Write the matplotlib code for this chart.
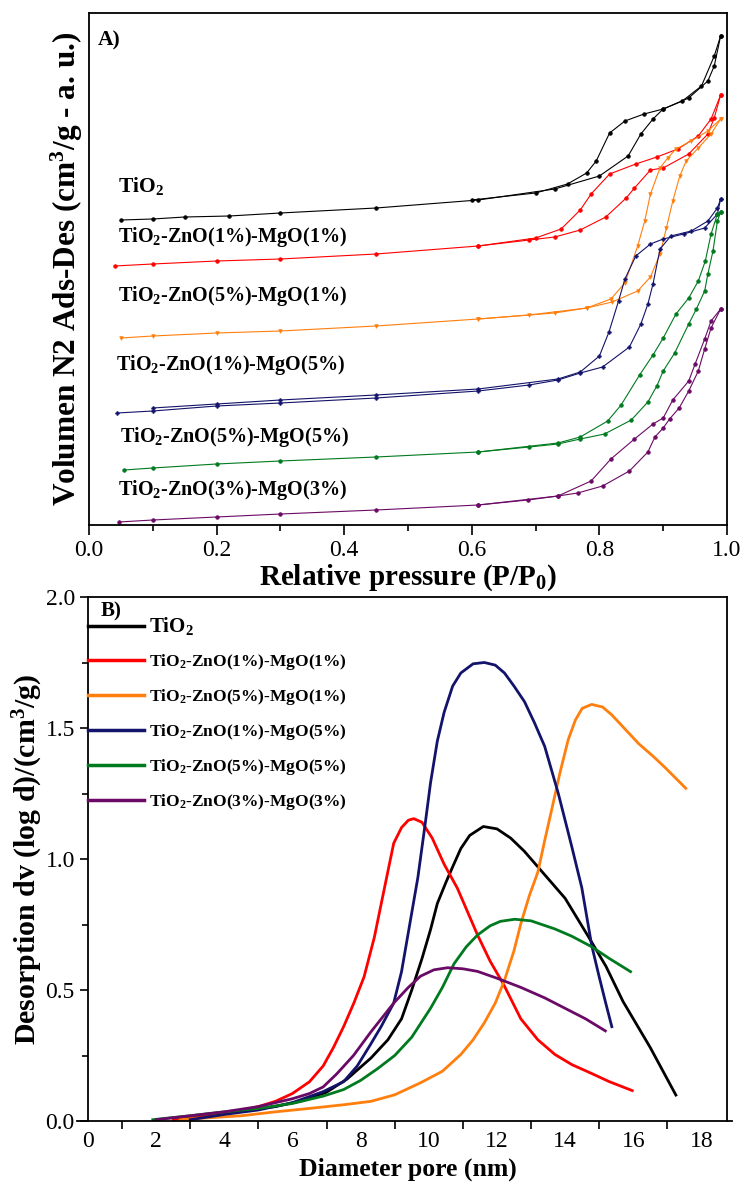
import numpy as np
import matplotlib
matplotlib.use("Agg")
import matplotlib.pyplot as plt
from matplotlib.ticker import MultipleLocator, FixedLocator, FormatStrFormatter

plt.rcParams['font.family'] = ['Liberation Serif', 'DejaVu Serif']
plt.rcParams['mathtext.fontset'] = 'custom'
plt.rcParams['mathtext.rm'] = 'Liberation Serif'
plt.rcParams['mathtext.bf'] = 'Liberation Serif:bold'
plt.rcParams['mathtext.default'] = 'regular'

# ---- panel A: N2 isotherms (offset, arbitrary units) ----
names = ['TiO$_2$', 'TiO$_2$-ZnO(1%)-MgO(1%)', 'TiO$_2$-ZnO(5%)-MgO(1%)',
         'TiO$_2$-ZnO(1%)-MgO(5%)', 'TiO$_2$-ZnO(5%)-MgO(5%)', 'TiO$_2$-ZnO(3%)-MgO(3%)']
colors = ['black', '#ff0000', '#ff7f0e', '#13136b', '#007a1f', '#6b0a66']
markers = ['o', 'o', 'v', 'P', 'o', 'o']

tio2_ads_x = [0.05, 0.10, 0.15, 0.22, 0.30, 0.45, 0.61, 0.73, 0.80, 0.845, 0.865, 0.884, 0.90, 0.94, 0.97, 0.98, 0.99]
tio2_ads_y = [305, 306, 308, 309, 312, 317, 325, 336, 349, 369, 391, 406, 416, 427, 444, 459, 489]
tio2_des_x = [0.99, 0.98, 0.96, 0.93, 0.90, 0.87, 0.84, 0.816, 0.795, 0.78, 0.75, 0.70, 0.60]
tio2_des_y = [489, 469, 439, 424, 416, 411, 404, 392, 364, 352, 341, 332, 325]

z11_ads_x = [0.04, 0.10, 0.20, 0.30, 0.45, 0.61, 0.69, 0.73, 0.77, 0.81, 0.842, 0.855, 0.88, 0.90, 0.94, 0.97, 0.98, 0.99]
z11_ads_y = [259, 261, 264, 266, 271, 279, 285, 288, 295, 308, 327, 337, 355, 357, 371, 391, 407, 430]
z11_des_x = [0.99, 0.975, 0.955, 0.923, 0.89, 0.857, 0.816, 0.787, 0.77, 0.74, 0.70, 0.61]
z11_des_y = [430, 406, 389, 376, 368, 361, 351, 331, 315, 296, 287, 279]

z51_ads_x = [0.05, 0.10, 0.20, 0.30, 0.45, 0.61, 0.69, 0.78, 0.82, 0.86, 0.88, 0.895, 0.905, 0.915, 0.926, 0.936, 0.955, 0.975, 0.99]
z51_ads_y = [187, 189, 192, 194, 199, 206, 210, 217, 223, 234, 248, 271, 297, 324, 349, 364, 377, 391, 406]
z51_des_x = [0.99, 0.97, 0.944, 0.92, 0.907, 0.895, 0.88, 0.871, 0.86, 0.84, 0.818, 0.78, 0.73, 0.61]
z51_des_y = [406, 394, 384, 376, 367, 357, 331, 304, 279, 242, 226, 217, 212, 206]

z15_ads_x = [0.044, 0.10, 0.20, 0.30, 0.45, 0.61, 0.69, 0.735, 0.77, 0.805, 0.847, 0.865, 0.876, 0.884, 0.895, 0.912, 0.944, 0.97, 0.985, 0.99]
z15_ads_y = [112, 114, 119, 122, 127, 134, 140, 145, 152, 158, 178, 201, 221, 241, 276, 289, 294, 304, 317, 326]
z15_des_x = [0.99, 0.985, 0.965, 0.932, 0.90, 0.88, 0.857, 0.84, 0.83, 0.815, 0.80, 0.77, 0.735, 0.61, 0.45, 0.30, 0.20, 0.10]
z15_des_y = [326, 311, 297, 291, 286, 281, 269, 246, 224, 193, 169, 153, 146, 136, 130, 125, 121, 117]

z55_ads_x = [0.055, 0.10, 0.20, 0.30, 0.45, 0.61, 0.69, 0.735, 0.77, 0.808, 0.85, 0.876, 0.89, 0.90, 0.918, 0.94, 0.952, 0.965, 0.97, 0.978, 0.985, 0.99]
z55_ads_y = [55, 57, 61, 64, 68, 73, 78, 81, 86, 91, 105, 123, 139, 154, 172, 201, 216, 234, 251, 274, 304, 313]
z55_des_x = [0.99, 0.985, 0.975, 0.966, 0.955, 0.94, 0.92, 0.90, 0.884, 0.863, 0.834, 0.813, 0.77, 0.735, 0.61]
z55_des_y = [313, 311, 291, 264, 244, 227, 211, 187, 170, 150, 120, 104, 88, 82, 73]

z33_ads_x = [0.047, 0.10, 0.20, 0.30, 0.45, 0.61, 0.688, 0.735, 0.766, 0.805, 0.847, 0.876, 0.887, 0.90, 0.91, 0.925, 0.94, 0.955, 0.965, 0.975, 0.99]
z33_ads_y = [3, 5, 8, 11, 15, 20, 25, 29, 32, 39, 54, 73, 88, 97, 106, 117, 134, 154, 176, 197, 216]
z33_des_x = [0.99, 0.975, 0.965, 0.95, 0.94, 0.915, 0.90, 0.884, 0.855, 0.818, 0.787, 0.735, 0.61]
z33_des_y = [216, 204, 186, 161, 144, 125, 107, 101, 86, 66, 44, 29, 20]

iso = [(tio2_ads_x, tio2_ads_y, tio2_des_x, tio2_des_y),
       (z11_ads_x, z11_ads_y, z11_des_x, z11_des_y),
       (z51_ads_x, z51_ads_y, z51_des_x, z51_des_y),
       (z15_ads_x, z15_ads_y, z15_des_x, z15_des_y),
       (z55_ads_x, z55_ads_y, z55_des_x, z55_des_y),
       (z33_ads_x, z33_ads_y, z33_des_x, z33_des_y)]

# label anchors in panel A (x, y in data units)
label_x = [0.045, 0.045, 0.045, 0.042, 0.049, 0.045]
label_y = [339, 288, 229, 160, 88, 35]

# ---- panel B: pore size distributions ----
black_x = [2.6, 3.5, 4.5, 5.5, 6.3, 7.0, 7.6, 8.3, 8.8, 9.2, 9.5, 9.8, 10.05, 10.25, 10.5, 10.7, 10.94, 11.2, 11.6,
           12.0, 12.4, 12.8, 13.2, 13.6, 14.0, 14.7, 15.2, 15.7, 16.5, 17.25]
black_y = [0.01, 0.025, 0.04, 0.055, 0.078, 0.11, 0.16, 0.24, 0.31, 0.39, 0.50, 0.62, 0.73, 0.83, 0.91, 0.97, 1.04, 1.09,
           1.124, 1.115, 1.08, 1.03, 0.97, 0.91, 0.85, 0.70, 0.59, 0.456, 0.28, 0.099]
red_x = [2.5, 3.5, 4.5, 5.0, 5.5, 6.0, 6.5, 6.9, 7.2, 7.5, 7.8, 8.1, 8.4, 8.7, 8.97, 9.2, 9.4, 9.56, 9.8, 10.1, 10.45,
         10.84, 11.43, 11.8, 12.2, 12.7, 13.2, 13.7, 14.2, 14.7, 15.3, 15.97]
red_y = [0.005, 0.02, 0.04, 0.055, 0.075, 0.105, 0.15, 0.21, 0.28, 0.36, 0.45, 0.55, 0.70, 0.89, 1.06, 1.12, 1.148, 1.154,
         1.14, 1.08, 0.98, 0.888, 0.71, 0.61, 0.52, 0.39, 0.31, 0.254, 0.215, 0.186, 0.15, 0.116]
orange_x = [2.7, 3.5, 4.5, 5.5, 6.5, 7.5, 8.3, 9.0, 9.76, 10.4, 10.94, 11.3, 11.63, 11.95, 12.22, 12.5, 12.7, 12.95,
            13.2, 13.4, 13.6, 13.85, 14.09, 14.3, 14.5, 14.78, 15.1, 15.37, 15.8, 16.16, 16.6, 16.95, 17.54]
orange_y = [0.005, 0.012, 0.02, 0.035, 0.048, 0.062, 0.075, 0.10, 0.146, 0.19, 0.254, 0.31, 0.375, 0.45, 0.537, 0.65,
            0.753, 0.86, 0.95, 1.07, 1.185, 1.33, 1.455, 1.53, 1.575, 1.59, 1.58, 1.55, 1.49, 1.44, 1.39, 1.347, 1.27]
navy_x = [3.0, 4.0, 5.0, 6.0, 6.9, 7.5, 7.9, 8.28, 8.6, 8.97, 9.2, 9.4, 9.68, 9.9, 10.05, 10.25, 10.45, 10.7, 10.94,
          11.3, 11.63, 11.95, 12.22, 12.5, 12.81, 13.1, 13.4, 13.8, 14.19, 14.49, 14.78, 15.0, 15.18, 15.37]
navy_y = [0.005, 0.025, 0.042, 0.07, 0.112, 0.15, 0.21, 0.29, 0.36, 0.45, 0.57, 0.72, 0.93, 1.14, 1.29, 1.45, 1.56,
          1.66, 1.71, 1.745, 1.75, 1.74, 1.71, 1.66, 1.60, 1.52, 1.43, 1.25, 1.05, 0.89, 0.67, 0.55, 0.456, 0.36]
green_x = [1.9, 3.0, 4.0, 5.0, 6.0, 6.9, 7.5, 8.0, 8.5, 9.0, 9.5, 10.05, 10.4, 10.74, 11.1, 11.43, 11.8, 12.1, 12.52,
           13.0, 13.7, 14.2, 14.78, 15.3, 15.92]
green_y = [0.005, 0.02, 0.035, 0.048, 0.067, 0.095, 0.12, 0.155, 0.20, 0.25, 0.32, 0.43, 0.51, 0.60, 0.665, 0.71,
           0.745, 0.762, 0.77, 0.764, 0.733, 0.705, 0.665, 0.62, 0.57]
purple_x = [2.0, 3.0, 4.0, 5.0, 6.0, 6.5, 6.9, 7.3, 7.79, 8.3, 8.97, 9.4, 9.76, 10.15, 10.55, 11.0, 11.43, 12.0, 12.7,
            13.4, 14.0, 14.6, 15.18]
purple_y = [0.005, 0.02, 0.035, 0.055, 0.085, 0.105, 0.13, 0.18, 0.25, 0.34, 0.45, 0.51, 0.553, 0.577, 0.585, 0.581,
            0.571, 0.545, 0.51, 0.47, 0.43, 0.39, 0.344]

psd = [(black_x, black_y), (red_x, red_y), (orange_x, orange_y),
       (navy_x, navy_y), (green_x, green_y), (purple_x, purple_y)]

W, H = 748, 1182
fig = plt.figure(figsize=(W / 100, H / 100), dpi=100)

# ---------- panel A ----------
axA = fig.add_axes([89 / W, 1 - 525 / H, (727 - 89) / W, 512 / H])
for (ax_x, ax_y, dx, dy), c, m in zip(iso, colors, markers):
    axA.plot(ax_x, ax_y, color=c, lw=0.8, marker=m, ms=2.6, mew=0.5)
    axA.plot(dx, dy, color=c, lw=0.8, marker=m, ms=2.6, mew=0.5)
for n, lx, ly in zip(names, label_x, label_y):
    fs = 15.5 if n == 'TiO$_2$' else 14.5
    axA.text(lx, ly, n, fontsize=fs, fontweight='bold', va='center', ha='left')
axA.text(0.014, 0.947, 'A)', transform=axA.transAxes, fontsize=15.5, fontweight='bold', va='center')
axA.set_xlim(0, 1.0)
axA.set_ylim(0, 512)
axA.xaxis.set_major_locator(MultipleLocator(0.2))
axA.xaxis.set_minor_locator(MultipleLocator(0.1))
axA.xaxis.set_major_formatter(FormatStrFormatter('%.1f'))
axA.tick_params(axis='x', which='major', direction='out', length=7, width=1.2, labelsize=17, pad=4, top=False)
axA.tick_params(axis='x', which='minor', direction='out', length=4, width=1.2, top=False)
axA.tick_params(axis='y', left=False, labelleft=False, which='both')
for s in axA.spines.values():
    s.set_linewidth(1.3)
axA.set_xlabel('Relative pressure (P/P$_0$)', fontsize=21, fontweight='bold', labelpad=1)
axA.set_ylabel('Volumen N2 Ads-Des (cm$^3$/g - a. u.)', fontsize=22.5, fontweight='bold', labelpad=3)

# ---------- panel B ----------
axB = fig.add_axes([88 / W, 1 - 1121 / H, (727 - 88) / W, 524 / H])
for (px, py), c, n in zip(psd, colors, names):
    axB.plot(px, py, color=c, lw=2.0, label=n)
axB.set_xlim(0, 18.75)
axB.set_ylim(0, 2.0)
axB.xaxis.set_major_locator(MultipleLocator(2))
axB.xaxis.set_minor_locator(FixedLocator(np.arange(1, 19, 2)))
axB.yaxis.set_major_locator(MultipleLocator(0.5))
axB.yaxis.set_minor_locator(MultipleLocator(0.25))
axB.yaxis.set_major_formatter(FormatStrFormatter('%.1f'))
axB.tick_params(axis='x', which='major', length=0, labelsize=17, pad=7)
axB.tick_params(axis='x', which='minor', direction='out', length=6, width=1.2)
axB.tick_params(axis='y', which='major', direction='out', length=6, width=1.2, labelsize=17)
axB.tick_params(axis='y', which='minor', direction='out', length=4, width=1.2)
for s in axB.spines.values():
    s.set_linewidth(1.3)
axB.spines['bottom'].set_bounds(-0.32, 18.9)
axB.set_xlabel('Diameter pore (nm)', fontsize=18.5, fontweight='bold', labelpad=4)
axB.set_ylabel('Desorption dv (log d)/(cm$^3$/g)', fontsize=21.5, fontweight='bold', labelpad=0)
axB.text(0.02, 0.973, 'B)', transform=axB.transAxes, fontsize=15, fontweight='bold', va='center')

leg = axB.legend(loc='upper left', bbox_to_anchor=(0.0, 0.965), frameon=False,
                 handlelength=3.2, handletextpad=0.3, labelspacing=0.86,
                 borderaxespad=0, borderpad=0, prop={'weight': 'bold', 'size': 12.5})
for line in leg.get_lines():
    line.set_linewidth(2.5)
leg.get_texts()[0].set_fontsize(15)

fig.savefig('out.png', dpi=100)
